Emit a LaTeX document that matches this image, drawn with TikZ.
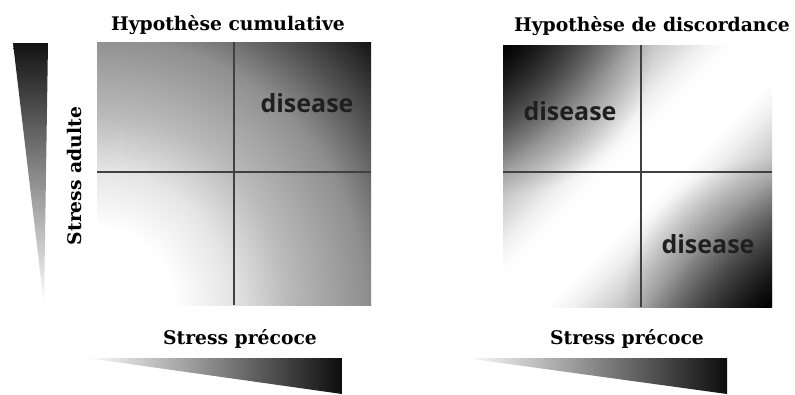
\documentclass[tikz,border=0pt]{standalone}
\usepackage{fontspec}
\setmainfont{DejaVu Serif}
\newfontfamily\disfont{Open Sans}
\usetikzlibrary{fadings}
\pgfdeclareradialshading{cumulrad}{\pgfpointorigin}{color(0bp)=(white); color(5bp)=(white); color(8.8bp)=(black!10); color(12.5bp)=(black!27); color(17.7bp)=(black!44); color(21bp)=(black!66); color(25bp)=(black!92); color(50bp)=(black!92)}
\pgfdeclareverticalshading{discaxis}{100bp}{color(0bp)=(black); color(25bp)=(black); color(30bp)=(black!70); color(37.5bp)=(black!28); color(44bp)=(black!5); color(46.5bp)=(white); color(53.5bp)=(white); color(56bp)=(black!5); color(62.5bp)=(black!28); color(70bp)=(black!70); color(75bp)=(black); color(100bp)=(black)}
\tikzfading[name=cornerfade, inner color=transparent!0, outer color=transparent!100]
\begin{document}
\begin{tikzpicture}[x=1pt,y=-1pt,
  titletext/.style={font=\bfseries\fontsize{18.75}{20}\selectfont, inner sep=0pt, anchor=base},
  dis/.style={font=\disfont\bfseries\fontsize{25}{28}\selectfont, text=black!88, inner sep=0pt, anchor=base},
  divider/.style={draw=black!75, line width=1.5pt},
  cornerdark/.style={fill=black, fill opacity=0.6, path fading=cornerfade}]
\useasboundingbox[fill=white] (0,0) rectangle (795,394);

% ---- left square (cumulative)
\coordinate (LTL) at (97,42);
\coordinate (LBR) at (371,305);
\coordinate (LBL) at (97,305);
\begin{scope}
  \clip (LTL) rectangle (LBR);
  \shade[shading=cumulrad] (LBL) circle (380pt);
\end{scope}
\coordinate (LVt) at (234,42);
\coordinate (LVb) at (234,305);
\coordinate (LHl) at (97,172);
\coordinate (LHr) at (371,172);
\draw[divider] (LVt) -- (LVb);
\draw[divider] (LHl) -- (LHr);

% ---- right square (discordance)
\coordinate (RTL) at (503,45);
\coordinate (RBR) at (772,307);
\begin{scope}
  \clip (RTL) rectangle (RBR);
  \shade[shading=discaxis, transform canvas={shift={(637.5,176)}, rotate=45}]
    (-188,-188) rectangle (188,188);
  \path[cornerdark] (RTL) circle (150pt);
  \path[cornerdark] (RBR) circle (150pt);
\end{scope}
\coordinate (RVt) at (641,45);
\coordinate (RVb) at (641,307);
\coordinate (RHl) at (503,172);
\coordinate (RHr) at (772,172);
\draw[divider] (RVt) -- (RVb);
\draw[divider] (RHl) -- (RHr);

% ---- wedges
\shade[top color=black!93, middle color=black!55, bottom color=white]
  (13,43) -- (48,43) -- (44,305) -- cycle;
\shade[left color=white, right color=black!95]
  (87,358) -- (342,358) -- (342,394) -- cycle;
\shade[left color=white, right color=black!95]
  (465,358) -- (727,358) -- (727,394) -- cycle;

% ---- texts
\node[titletext] (t1) at (228,30) {Hypothèse cumulative};
\node[titletext] (t2) at (652,31) {Hypothèse de discordance};
\node[titletext, rotate=90] (ya) at (81,176) {Stress adulte};
\node[titletext] (x1) at (240,344) {Stress précoce};
\node[titletext] (x2) at (627,344) {Stress précoce};
\node[dis] (d1) at (307,112) {disease};
\node[dis] (d2) at (570,120) {disease};
\node[dis] (d3) at (708,253) {disease};
\end{tikzpicture}
\end{document}
